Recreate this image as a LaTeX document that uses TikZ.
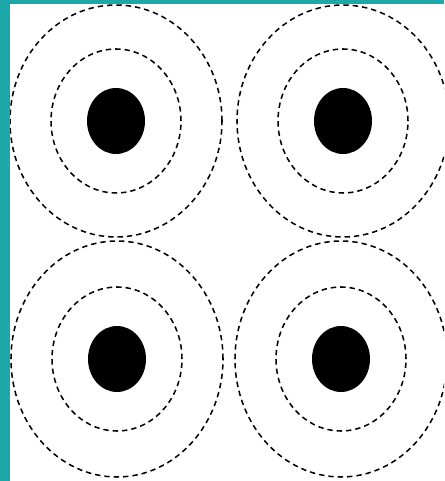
\documentclass[tikz,border=0pt]{standalone}
\usepackage{tikz}
\usetikzlibrary{calc}
\definecolor{frameteal}{RGB}{28,167,168}

\begin{document}
\begin{tikzpicture}[scale=1, x = 0.03cm, y = 0.03cm]
  \tikzset{ring/.style = {draw, line width = 1.3pt, dash pattern = on 4.6pt off 3.4pt}, core/.style = {fill = black}}

  \fill[frameteal] (0,0) rectangle (444,481);
  \fill[white] (10,0) rectangle (444,477);
  \useasboundingbox (0,0) rectangle (444,481);

  \begin{scope}
    \clip (10,0) rectangle (444,477);
    % top row
    \fill[core] (116,360) ellipse [x radius = 29, y radius = 33];  \draw[ring] (116,360) ellipse [x radius = 65, y radius = 72];  \draw[ring] (116,360) ellipse [x radius = 106, y radius = 116];
    \fill[core] (343,360) ellipse [x radius = 29, y radius = 33];  \draw[ring] (343,360) ellipse [x radius = 65, y radius = 72];  \draw[ring] (343,360) ellipse [x radius = 106, y radius = 116];
    % bottom row
    \fill[core] (117,122) ellipse [x radius = 29, y radius = 33];  \draw[ring] (117,122) ellipse [x radius = 65, y radius = 72];  \draw[ring] (117,122) ellipse [x radius = 106, y radius = 118];
    \fill[core] (341,122) ellipse [x radius = 29, y radius = 33];  \draw[ring] (341,122) ellipse [x radius = 65, y radius = 72];  \draw[ring] (341,122) ellipse [x radius = 106, y radius = 118];
  \end{scope}
\end{tikzpicture}
\end{document}
